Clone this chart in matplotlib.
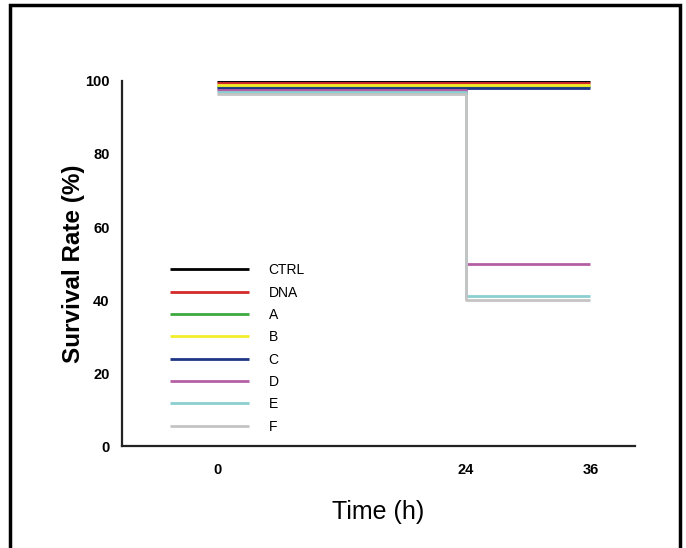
import matplotlib
matplotlib.use("Agg")
import matplotlib.pyplot as plt
from matplotlib.patches import Rectangle

plt.rcParams["font.family"] = ["Liberation Sans", "DejaVu Sans"]

# survival data (%)
time_h = [0, 24, 36]
groups = ["CTRL", "DNA", "A", "B", "C", "D", "E", "F"]
survival = {
    "CTRL": [100, 100, 100],
    "DNA": [99.5, 99.5, 99.5],
    "A": [98.5, 98.5, 98.5],
    "B": [99, 99, 99],
    "C": [98, 98, 98],
    "D": [97.5, 50, 50],
    "E": [97, 41, 41],
    "F": [96.5, 40, 40],
}
colors = ["#000000", "#d42a2a", "#3da83d", "#f2ef2a", "#1f3585",
          "#b45fa5", "#8ccfd0", "#c4c4c4"]

fig = plt.figure(figsize=(6.86, 5.48), dpi=100)
ax = fig.add_axes([0.1778, 0.1861, 0.7479, 0.6661])

for name, c in zip(groups, colors):
    ax.plot(time_h, survival[name], drawstyle="steps-post", color=c,
            lw=2.0, label=name, solid_capstyle="butt")

ax.set_xlim(-9.2, 40.3)
ax.set_ylim(0, 100)
ax.set_xticks(time_h)
ax.set_yticks([0, 20, 40, 60, 80, 100])
ax.spines["top"].set_visible(False)
ax.spines["right"].set_visible(False)
for s in ["left", "bottom"]:
    ax.spines[s].set_linewidth(1.6)
    ax.spines[s].set_color("#222222")
ax.tick_params(length=0, labelsize=10.5)
ax.tick_params(axis="y", pad=9)
ax.tick_params(axis="x", pad=12)
for lab in ax.get_xticklabels() + ax.get_yticklabels():
    lab.set_fontweight("bold")

ax.set_ylabel("Survival Rate (%)", fontsize=17.5, fontweight="bold", labelpad=0)
ax.set_xlabel("Time (h)", fontsize=18, labelpad=17)

leg = ax.legend(loc="upper left", bbox_to_anchor=(0.083, 0.516), frameon=False,
                fontsize=10, handlelength=5.7, handletextpad=1.4,
                labelspacing=0.6, borderaxespad=0)

# outer frame around the figure
fig.patches.append(Rectangle((10 / 686, -0.05), 670 / 686, 1.04,
                             transform=fig.transFigure, fill=False,
                             lw=2.5, ec="black", clip_on=False))

plt.savefig("out.png", dpi=100)
